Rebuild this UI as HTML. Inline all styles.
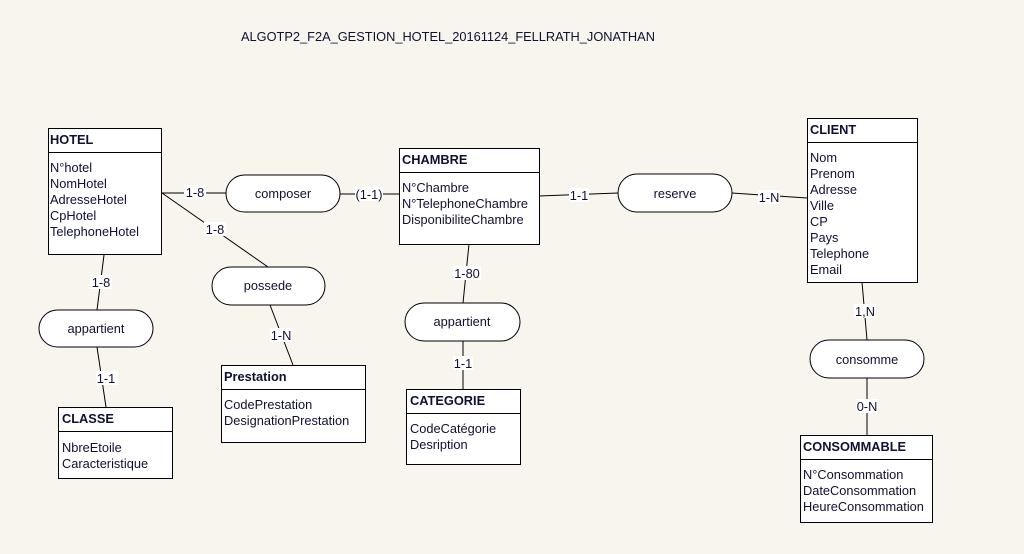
<!DOCTYPE html>
<html><head><meta charset="utf-8"><style>
html,body{margin:0;padding:0;background:#f8f5ee;}
svg{display:block;font-family:"Liberation Sans",sans-serif;font-size:12.8px;}
.t{fill:#101030}
.b{font-weight:bold}
rect.e{fill:#fff;stroke:#000;stroke-width:1}
rect.r{fill:#fff;stroke:#000;stroke-width:1}
line{stroke:#000;stroke-width:1}
.lb{fill:#fff}
</style></head><body>
<svg width="1024" height="554" viewBox="0 0 1024 554">
<text x="241" y="41" class="t">ALGOTP2_F2A_GESTION_HOTEL_20161124_FELLRATH_JONATHAN</text>

<line x1="162" y1="193" x2="226" y2="193"/>
<line x1="340" y1="194" x2="399" y2="194"/>
<line x1="162" y1="193" x2="268" y2="267"/>
<line x1="104" y1="255" x2="97" y2="310"/>
<line x1="97" y1="347" x2="106" y2="407"/>
<line x1="270" y1="305" x2="293" y2="365"/>
<line x1="469" y1="244" x2="463" y2="303"/>
<line x1="463" y1="341" x2="463" y2="389"/>
<line x1="539" y1="196" x2="618" y2="193"/>
<line x1="732" y1="193" x2="807" y2="198"/>
<line x1="862" y1="282" x2="867" y2="340"/>
<line x1="867" y1="378" x2="867" y2="435"/>

<g text-anchor="middle" class="t">
<rect class="lb" x="184" y="185" width="22" height="14"/><text x="195" y="197">1-8</text>
<rect class="lb" x="355" y="187" width="28" height="14"/><text x="369" y="199">(1-1)</text>
<rect class="lb" x="204" y="222" width="22" height="14"/><text x="215" y="234">1-8</text>
<rect class="lb" x="90" y="275" width="22" height="14"/><text x="101" y="287">1-8</text>
<rect class="lb" x="96" y="371" width="22" height="14"/><text x="106" y="383">1-1</text>
<rect class="lb" x="270" y="328" width="22" height="14"/><text x="281" y="340">1-N</text>
<rect class="lb" x="453" y="266" width="28" height="14"/><text x="467" y="278">1-80</text>
<rect class="lb" x="453" y="356" width="20" height="14"/><text x="463" y="368">1-1</text>
<rect class="lb" x="569" y="188" width="20" height="14"/><text x="579" y="200">1-1</text>
<rect class="lb" x="758" y="190" width="22" height="14"/><text x="769" y="202">1-N</text>
<rect class="lb" x="854" y="304" width="22" height="14"/><text x="865" y="316">1,N</text>
<rect class="lb" x="856" y="399" width="22" height="14"/><text x="867" y="411">0-N</text>
</g>

<g text-anchor="middle" class="t">
<rect class="r" x="226" y="175" width="114" height="37" rx="18.5"/><text x="283" y="198">composer</text>
<rect class="r" x="212" y="267" width="113" height="38" rx="19"/><text x="268" y="290">possede</text>
<rect class="r" x="39" y="310" width="114" height="37" rx="18.5"/><text x="96" y="333">appartient</text>
<rect class="r" x="405" y="303" width="115" height="38" rx="19"/><text x="462" y="326">appartient</text>
<rect class="r" x="618" y="174" width="114" height="38" rx="19"/><text x="675" y="198">reserve</text>
<rect class="r" x="810" y="340" width="114" height="38" rx="19"/><text x="867" y="364">consomme</text>
</g>

<g class="t">
<rect class="e" x="48.5" y="128.5" width="113" height="126"/><line x1="48" y1="152.5" x2="162" y2="152.5"/>
<text x="50" y="144" class="b">HOTEL</text>
<text x="50" y="172">N°hotel</text><text x="50" y="188">NomHotel</text><text x="50" y="204">AdresseHotel</text><text x="50" y="220">CpHotel</text><text x="50" y="236">TelephoneHotel</text>

<rect class="e" x="399.5" y="148.5" width="140" height="96"/><line x1="399" y1="172.5" x2="540" y2="172.5"/>
<text x="402" y="164" class="b">CHAMBRE</text>
<text x="402" y="192">N°Chambre</text><text x="402" y="208">N°TelephoneChambre</text><text x="402" y="224">DisponibiliteChambre</text>

<rect class="e" x="807.5" y="118.5" width="110" height="164"/><line x1="807" y1="142.5" x2="918" y2="142.5"/>
<text x="810" y="134" class="b">CLIENT</text>
<text x="810" y="162">Nom</text><text x="810" y="178">Prenom</text><text x="810" y="194">Adresse</text><text x="810" y="210">Ville</text><text x="810" y="226">CP</text><text x="810" y="242">Pays</text><text x="810" y="258">Telephone</text><text x="810" y="274">Email</text>

<rect class="e" x="221.5" y="365.5" width="144" height="77"/><line x1="221" y1="389.5" x2="366" y2="389.5"/>
<text x="224" y="381" class="b">Prestation</text>
<text x="224" y="409">CodePrestation</text><text x="224" y="425">DesignationPrestation</text>

<rect class="e" x="58.5" y="407.5" width="114" height="71"/><line x1="58" y1="431.5" x2="173" y2="431.5"/>
<text x="62" y="423" class="b">CLASSE</text>
<text x="62" y="452">NbreEtoile</text><text x="62" y="468">Caracteristique</text>

<rect class="e" x="406.5" y="389.5" width="114" height="75"/><line x1="406" y1="413.5" x2="521" y2="413.5"/>
<text x="410" y="405" class="b">CATEGORIE</text>
<text x="410" y="433">CodeCatégorie</text><text x="410" y="449">Desription</text>

<rect class="e" x="800.5" y="435.5" width="132" height="87"/><line x1="800" y1="459.5" x2="933" y2="459.5"/>
<text x="803" y="451" class="b">CONSOMMABLE</text>
<text x="803" y="479">N°Consommation</text><text x="803" y="495">DateConsommation</text><text x="803" y="511">HeureConsommation</text>
</g>
</svg>
</body></html>
